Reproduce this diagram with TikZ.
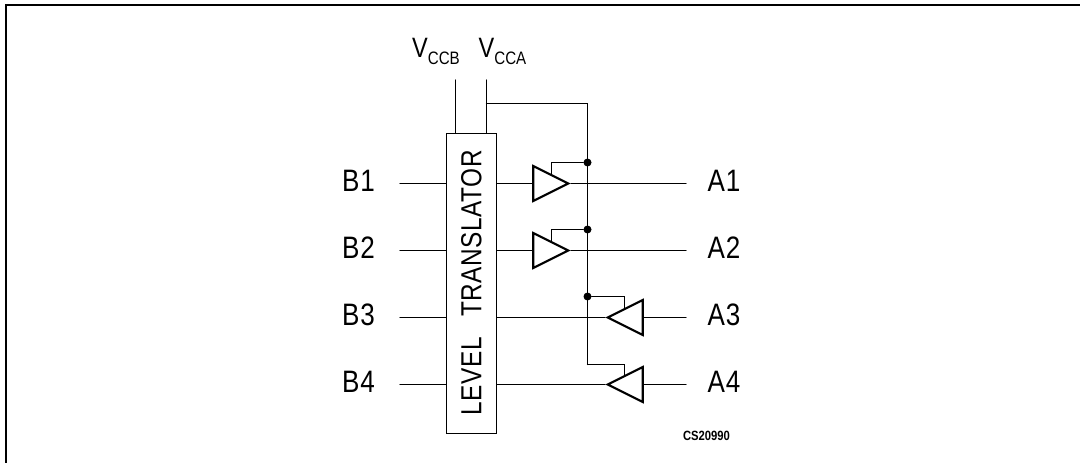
\documentclass[tikz,border=0pt]{standalone}
\usepackage{fontspec}
\setmainfont[FakeStretch=0.84]{Liberation Sans}
\usetikzlibrary{shapes.geometric}

\tikzstyle{pin}=[inner sep=0pt, font=\fontsize{31}{31}\selectfont\addfontfeature{LetterSpace=3}]
\tikzstyle{wire}=[line width=1.1pt, line cap=round]
\tikzstyle{buffer}=[isosceles triangle, isosceles triangle stretches, draw, line width=2.1pt, minimum width=35pt, minimum height=35pt, inner sep=0pt]
\tikzstyle{dot}=[circle, fill=black, inner sep=0pt, minimum size=8pt]
\newcommand{\supply}[1]{V\raisebox{-7pt}{\fontsize{18}{18}\selectfont #1}}

\begin{document}
\begin{tikzpicture}[x=1pt, y=-1pt]
        \useasboundingbox (0, 0) rectangle (1080, 463);
        \draw[line width=2pt] (6, 463) -- (6, 5) -- (1080, 5);

        \node[draw, line width=1.1pt, minimum width=50pt, minimum height=300pt, inner sep=0pt](box) at (471.5, 283.5) {};
        \node[rotate=90, inner sep=0pt, font=\fontsize{29}{29}\selectfont\addfontfeature{LetterSpace=2}](translator) at (471.5, 282.5) {LEVEL\hspace{13pt} TRANSLATOR};

        \node[inner sep=0pt, font=\fontsize{28}{28}\selectfont](vccb) at (436, 51) {\supply{CCB}};
        \node[inner sep=0pt, font=\fontsize{28}{28}\selectfont](vcca) at (502.5, 51) {\supply{CCA}};
        \coordinate (vccbend) at (455.5, 80);
        \coordinate (vccaend) at (486.5, 80);
        \coordinate (rail) at (587.5, 364.5);

        \node[pin](B1) at (358.5, 180.5) {B1};
        \node[pin](B2) at (358.5, 247.5) {B2};
        \node[pin](B3) at (358.5, 314.5) {B3};
        \node[pin](B4) at (358.5, 381.5) {B4};

        \node[pin](A1) at (724, 180.5) {A1};
        \node[pin](A2) at (724, 247.5) {A2};
        \node[pin](A3) at (724, 314.5) {A3};
        \node[pin](A4) at (724, 381.5) {A4};

        \coordinate (b1) at (400, 183.5);
        \coordinate (b2) at (400, 250.5);
        \coordinate (b3) at (400, 317.5);
        \coordinate (b4) at (400, 384.5);

        \coordinate (a1) at (686, 183.5);
        \coordinate (a2) at (686, 250.5);
        \coordinate (a3) at (686, 317.5);
        \coordinate (a4) at (686, 384.5);

        \node[buffer, anchor=apex](buf1) at (571, 183.5) {};
        \node[buffer, anchor=apex](buf2) at (571, 250.5) {};
        \node[buffer, shape border rotate=180, anchor=apex](buf3) at (605, 317.5) {};
        \node[buffer, shape border rotate=180, anchor=apex](buf4) at (605, 384.5) {};

        \node[dot](dot1) at (587.5, 162.5) {};
        \node[dot](dot2) at (587.5, 229.5) {};
        \node[dot](dot3) at (587.5, 296.5) {};

        \node[inner sep=0pt, font=\bfseries\fontsize{13.4}{13.4}\selectfont](code) at (706.5, 435.5) {CS20990};

        \begin{scope}[every path/.style={wire}]
            \draw (vccbend) -- (vccbend |- box.north);
            \draw (vccaend) -- (vccaend |- box.north);
            \draw (486.5, 103.5) -| (rail);
            \draw (rail) -| (buf4.right side);
            \draw (dot1) -| (buf1.left side);
            \draw (dot2) -| (buf2.left side);
            \draw (dot3) -| (buf3.right side);

            \draw (b1) -- (b1 -| box.west);
            \draw (b2) -- (b2 -| box.west);
            \draw (b3) -- (b3 -| box.west);
            \draw (b4) -- (b4 -| box.west);

            \draw (b1 -| box.east) -- (buf1.lower side);
            \draw (b2 -| box.east) -- (buf2.lower side);
            \draw (b3 -| box.east) -- (buf3.apex);
            \draw (b4 -| box.east) -- (buf4.apex);

            \draw (buf1.apex) -- (a1);
            \draw (buf2.apex) -- (a2);
            \draw (buf3.lower side) -- (a3);
            \draw (buf4.lower side) -- (a4);
        \end{scope}
\end{tikzpicture}
\end{document}
